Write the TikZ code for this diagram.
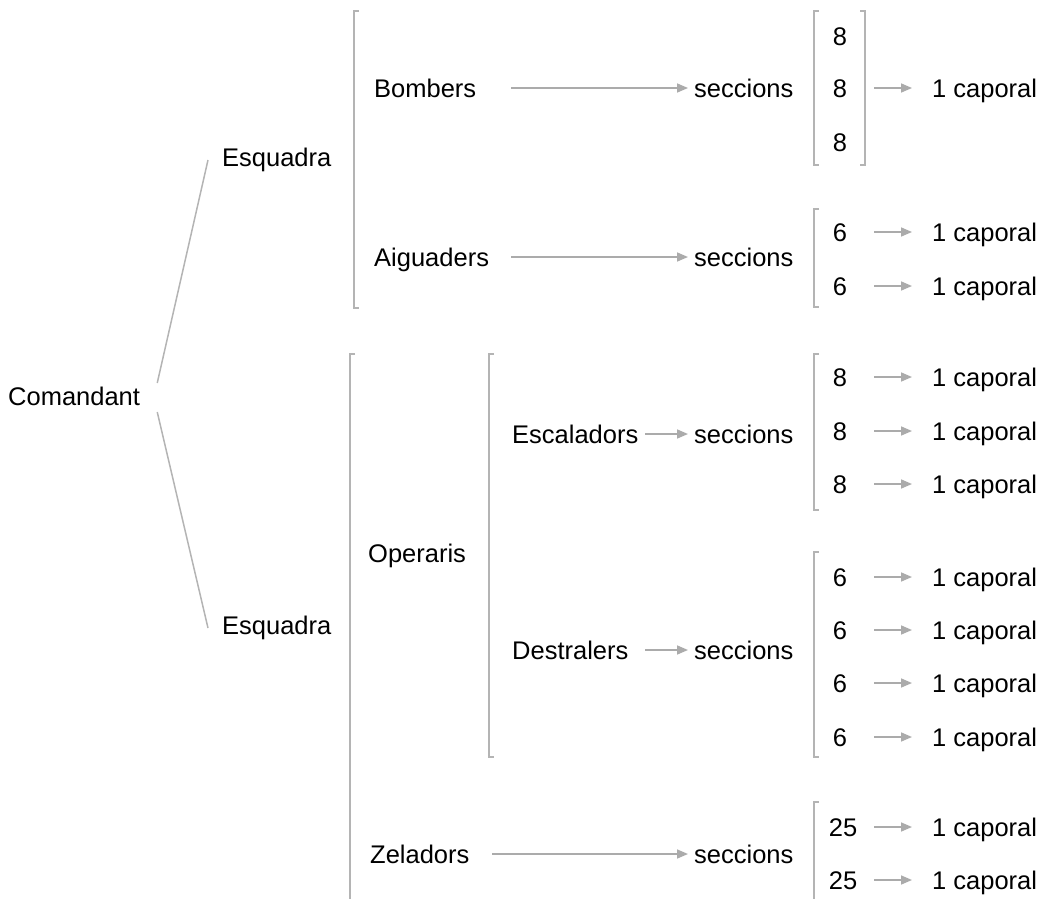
\documentclass[tikz,border=0pt]{standalone}
\usepackage{fontspec}
\setmainfont{Liberation Sans}
\usetikzlibrary{arrows.meta}
\definecolor{linegray}{HTML}{B4B4B4}
\definecolor{arrgray}{HTML}{ABABAB}
\tikzset{
  lbl/.style={anchor=west, inner sep=0pt, text height=18.3pt, text depth=0pt,
    font=\fontsize{25.5}{30}\selectfont},
  num/.style={anchor=center, inner sep=0pt, text height=18.3pt, text depth=0pt,
    font=\fontsize{25.5}{30}\selectfont},
  brk/.style={draw=linegray, line width=1.6pt},
  link/.style={draw=linegray, line width=1.5pt},
  arr/.style={draw=arrgray, line width=1.6pt, -{Triangle[length=11pt,width=9pt]}},
}
\begin{document}
\begin{tikzpicture}[x=1pt,y=-1pt]
\useasboundingbox (0,0) rectangle (1047,899);
% columns for arrow ends
\coordinate (bigA) at (511,0);
\coordinate (bigZ) at (492,0);
\coordinate (midA) at (645,0);
\coordinate (secE) at (688,0);
\coordinate (smA) at (874,0);
\coordinate (smE) at (912,0);

% left tree
\node[lbl] (cmd) at (8,396) {Comandant};
\node[lbl] (esq1) at (222,157) {Esquadra};
\node[lbl] (esq2) at (222,625) {Esquadra};
\draw[link] ([xshift=17pt,yshift=13pt]cmd.east) -- ([xshift=-14pt,yshift=-3pt]esq1.west);
\draw[link] ([xshift=17pt,yshift=-16pt]cmd.east) -- ([xshift=-14pt,yshift=-3pt]esq2.west);

% first esquadra bracket
\draw[brk] (359,11) -- (354,11) -- (354,308) -- (359,308);
\node[lbl] (bomb) at (374,88) {Bombers};
\node[lbl] (aigu) at (374,257) {Aiguaders};
\node[lbl] (sec1) at (694,88) {seccions};
\node[lbl] (sec2) at (694,257) {seccions};
\draw[arr] (bigA |- bomb) -- (secE |- sec1);
\draw[arr] (bigA |- aigu) -- (secE |- sec2);

% bombers sections
\draw[brk] (819,11) -- (814,11) -- (814,165) -- (819,165);
\draw[brk] (860,11) -- (865,11) -- (865,165) -- (860,165);
\node[num] (b1) at (840,36) {8};
\node[num] (b2) at (840,88) {8};
\node[num] (b3) at (840,142) {8};
\node[lbl] (bc) at (932,88) {1 caporal};
\draw[arr] (smA |- b2) -- (smE |- bc);

% aiguaders sections
\draw[brk] (819,209) -- (814,209) -- (814,307) -- (819,307);
\node[num] (a1) at (840,232) {6};
\node[num] (a2) at (840,286) {6};
\node[lbl] (ac1) at (932,232) {1 caporal};
\node[lbl] (ac2) at (932,286) {1 caporal};
\draw[arr] (smA |- a1) -- (smE |- ac1);
\draw[arr] (smA |- a2) -- (smE |- ac2);

% second esquadra bracket
\draw[brk] (355,354) -- (350,354) -- (350,900);
\node[lbl] (oper) at (368,553) {Operaris};
\draw[brk] (494,354) -- (489,354) -- (489,757) -- (494,757);
\node[lbl] (esca) at (512,434) {Escaladors};
\node[lbl] (dest) at (512,650) {Destralers};
\node[lbl] (sec3) at (694,434) {seccions};
\node[lbl] (sec4) at (694,650) {seccions};
\draw[arr] (midA |- esca) -- (secE |- sec3);
\draw[arr] (midA |- dest) -- (secE |- sec4);

% escaladors sections
\draw[brk] (819,354) -- (814,354) -- (814,510) -- (819,510);
\node[num] (e1) at (840,377) {8};
\node[num] (e2) at (840,431) {8};
\node[num] (e3) at (840,484) {8};
\node[lbl] (ec1) at (932,377) {1 caporal};
\node[lbl] (ec2) at (932,431) {1 caporal};
\node[lbl] (ec3) at (932,484) {1 caporal};
\draw[arr] (smA |- e1) -- (smE |- ec1);
\draw[arr] (smA |- e2) -- (smE |- ec2);
\draw[arr] (smA |- e3) -- (smE |- ec3);

% destralers sections
\draw[brk] (819,552) -- (814,552) -- (814,757) -- (819,757);
\node[num] (d1) at (840,577) {6};
\node[num] (d2) at (840,630) {6};
\node[num] (d3) at (840,683) {6};
\node[num] (d4) at (840,737) {6};
\node[lbl] (dc1) at (932,577) {1 caporal};
\node[lbl] (dc2) at (932,630) {1 caporal};
\node[lbl] (dc3) at (932,683) {1 caporal};
\node[lbl] (dc4) at (932,737) {1 caporal};
\draw[arr] (smA |- d1) -- (smE |- dc1);
\draw[arr] (smA |- d2) -- (smE |- dc2);
\draw[arr] (smA |- d3) -- (smE |- dc3);
\draw[arr] (smA |- d4) -- (smE |- dc4);

% zeladors
\node[lbl] (zel) at (370,854) {Zeladors};
\node[lbl] (sec5) at (694,854) {seccions};
\draw[arr] (bigZ |- zel) -- (secE |- sec5);
\draw[brk] (819,802) -- (814,802) -- (814,900);
\node[num] (z1) at (843,827) {25};
\node[num] (z2) at (843,880) {25};
\node[lbl] (zc1) at (932,827) {1 caporal};
\node[lbl] (zc2) at (932,880) {1 caporal};
\draw[arr] (smA |- z1) -- (smE |- zc1);
\draw[arr] (smA |- z2) -- (smE |- zc2);
\end{tikzpicture}
\end{document}
